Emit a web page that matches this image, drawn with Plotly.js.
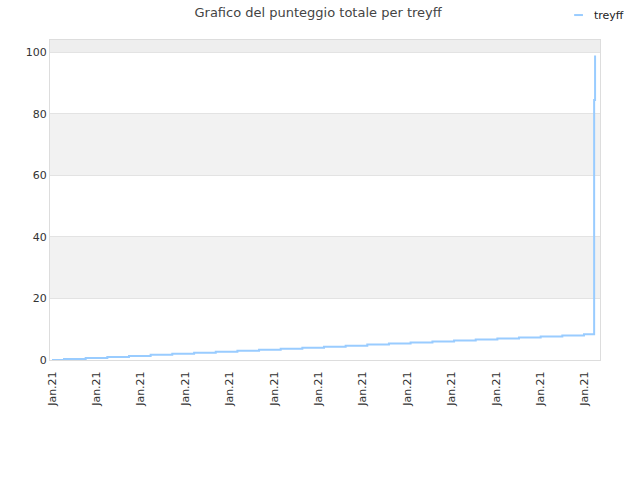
<!DOCTYPE html>
<html>
<head>
<meta charset="utf-8">
<script src="https://cdn.plot.ly/plotly-3.0.1.min.js"></script>
<style>html,body{margin:0;padding:0;background:#fff;}#chart{width:640px;height:480px;}</style>
</head>
<body>
<div id="chart"></div>
<script>
var seriesName = "treyff";
var dates = [
  "2021-01-01 00:00", "2021-01-01 06:30", "2021-01-01 18:12", "2021-01-02 05:54",
  "2021-01-02 17:36", "2021-01-03 05:18", "2021-01-03 17:00", "2021-01-04 04:48",
  "2021-01-04 16:30", "2021-01-05 04:12", "2021-01-05 15:54", "2021-01-06 03:36",
  "2021-01-06 15:18", "2021-01-07 03:00", "2021-01-07 14:42", "2021-01-08 02:24",
  "2021-01-08 14:06", "2021-01-09 01:48", "2021-01-09 13:36", "2021-01-10 01:18",
  "2021-01-10 13:00", "2021-01-11 00:42", "2021-01-11 12:24", "2021-01-12 00:06",
  "2021-01-12 11:48", "2021-01-12 23:30", "2021-01-13 05:00", "2021-01-13 05:30"
];
var scores = [
  0, 0.33, 0.67, 1, 1.33, 1.67, 2, 2.33, 2.67, 3, 3.33, 3.67, 4, 4.33,
  4.67, 5, 5.33, 5.67, 6, 6.33, 6.67, 7, 7.33, 7.67, 8, 8.33, 84.5, 99
];
var yTicks = [0, 20, 40, 60, 80, 100];
var bandRanges = [[20, 40], [60, 80]];
var topBand = [100, 104];
var lineColor = '#99ccff';

var shapes = bandRanges.map(function (b) {
  return {type: 'rect', xref: 'paper', yref: 'y', x0: 0, x1: 1, y0: b[0], y1: b[1],
          fillcolor: '#f2f2f2', line: {width: 0}, layer: 'below'};
});
shapes.push({type: 'rect', xref: 'paper', yref: 'y', x0: 0, x1: 1, y0: topBand[0], y1: topBand[1],
             fillcolor: '#eeeeee', line: {width: 0}, layer: 'below'});
// legend swatch
shapes.push({type: 'line', xref: 'paper', yref: 'paper', x0: 0.953, x1: 0.969, y0: 1.078, y1: 1.078,
             line: {color: lineColor, width: 2}});

var trace = {
  x: dates, y: scores, type: 'scatter', mode: 'lines', name: seriesName,
  line: {color: lineColor, width: 2, shape: 'hv'}
};

var layout = {
  width: 640, height: 480,
  margin: {l: 50, r: 40, t: 40, b: 120, autoexpand: false},
  paper_bgcolor: '#ffffff', plot_bgcolor: '#ffffff',
  font: {family: 'DejaVu Sans, sans-serif', size: 11, color: '#333333'},
  title: {text: 'Grafico del punteggio totale per treyff', x: 0.497, xanchor: 'center', y: 0.975, yanchor: 'middle',
          font: {family: 'DejaVu Sans, sans-serif', size: 13, color: '#444444'}},
  showlegend: false,
  annotations: [{text: seriesName, xref: 'paper', yref: 'paper', x: 0.985, y: 1.078,
                 xanchor: 'left', yanchor: 'middle', showarrow: false,
                 font: {size: 11, color: '#222222'}}],
  shapes: shapes,
  xaxis: {
    type: 'date',
    range: ['2020-12-31 22:55', '2021-01-13 08:10'],
    tick0: '2021-01-01', dtick: 86400000, tickformat: '%b.%y',
    tickangle: -90, showgrid: false, zeroline: false,
    showline: true, linecolor: '#dddddd', linewidth: 1, mirror: true,
    ticks: '', ticklabelstandoff: 6, tickfont: {size: 11, color: '#333333'}
  },
  yaxis: {
    range: [0, 104], tickvals: yTicks, ticktext: yTicks.map(String),
    showgrid: true, gridcolor: '#e3e3e3', zeroline: false,
    showline: true, linecolor: '#dddddd', linewidth: 1, mirror: true,
    ticks: '', tickfont: {size: 11, color: '#333333'}
  }
};

Plotly.newPlot('chart', [trace], layout, {displayModeBar: false, staticPlot: true});
</script>
</body>
</html>
